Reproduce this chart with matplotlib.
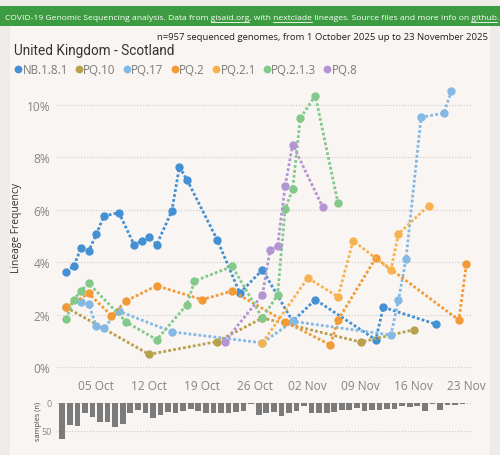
import matplotlib
matplotlib.use('Agg')
import matplotlib.pyplot as plt
import pandas as pd
from matplotlib.lines import Line2D
from matplotlib.patches import Rectangle

plt.rcParams['font.family'] = ['Open Sans', 'DejaVu Sans']

start = pd.Timestamp('2025-10-01')

lineages = ['NB.1.8.1', 'PQ.10', 'PQ.17', 'PQ.2', 'PQ.2.1', 'PQ.2.1.3', 'PQ.8']
colors = ['#4390d3', '#b9a04c', '#84b9e4', '#f39a36', '#f7b250', '#82c98a', '#b495d3']

# day offsets from 1 Oct 2025, frequency in %
nb_days = [0, 1, 2, 3, 4, 5, 7, 9, 10, 11, 12, 14, 15, 16, 20, 23, 26, 30, 33, 41, 42, 49]
nb_freq = [3.64, 3.85, 4.54, 4.43, 5.06, 5.76, 5.89, 4.67, 4.80, 4.97, 4.67, 5.95, 7.63, 7.15,
           4.86, 2.82, 3.71, 1.74, 2.57, 1.04, 2.28, 1.63]

pq10_days = [0, 11, 20, 26, 39, 46]
pq10_freq = [2.28, 0.48, 0.97, 1.87, 0.95, 1.42]

pq17_days = [2, 3, 4, 5, 7, 14, 26, 30, 43, 44, 45, 47, 50, 51]
pq17_freq = [2.47, 2.40, 1.55, 1.50, 2.13, 1.34, 0.92, 1.74, 1.22, 2.54, 4.12, 9.53, 9.69, 10.53]

pq2_days = [0, 3, 6, 8, 12, 18, 22, 29, 35, 36, 41, 52, 53]
pq2_freq = [2.28, 2.81, 1.96, 2.53, 3.10, 2.57, 2.90, 1.73, 0.84, 1.79, 4.16, 1.79, 3.93]

pq21_days = [26, 32, 36, 38, 43, 44, 48]
pq21_freq = [0.92, 3.40, 2.68, 4.82, 3.70, 5.08, 6.16]

pq213_days = [0, 1, 2, 3, 8, 12, 16, 17, 22, 26, 28, 29, 30, 31, 33, 36]
pq213_freq = [1.83, 2.57, 2.91, 3.19, 1.71, 1.04, 2.38, 3.28, 3.84, 1.87, 2.75, 6.03, 6.79,
              9.49, 10.36, 6.25]

pq8_days = [21, 26, 27, 28, 29, 30, 34]
pq8_freq = [0.97, 2.75, 4.47, 4.61, 6.90, 8.49, 6.09]

# sequenced samples per day, 1 Oct .. 23 Nov
samples = [65, 39, 41, 19, 26, 35, 34, 44, 38, 19, 13, 18, 27, 21, 16, 19, 15, 11, 14, 18,
           18, 18, 18, 17, 15, 3, 21, 19, 16, 23, 18, 14, 6, 19, 19, 18, 17, 13, 13, 9,
           15, 12, 12, 11, 11, 6, 7, 6, 15, 3, 13, 4, 4, 2]

tick_dates = ['2025-10-05', '2025-10-12', '2025-10-19', '2025-10-26',
              '2025-11-02', '2025-11-09', '2025-11-16', '2025-11-23']

series = [(nb_days, nb_freq), (pq10_days, pq10_freq), (pq17_days, pq17_freq),
          (pq2_days, pq2_freq), (pq21_days, pq21_freq), (pq213_days, pq213_freq),
          (pq8_days, pq8_freq)]


def to_dates(days):
    return start + pd.to_timedelta(days, unit='D')


W, H = 500, 456
fig = plt.figure(figsize=(W / 100, H / 100), dpi=100, facecolor='#eeebe9')
fig.patches.append(Rectangle((10 / W, 0), 480 / W, 1 - 27 / H, transform=fig.transFigure,
                             facecolor='#f8f5f3', edgecolor='none', zorder=-10))
fig.patches.append(Rectangle((0, 1 - 27 / H), 1, 20 / H, transform=fig.transFigure,
                             facecolor='#3d9b41', edgecolor='none', zorder=-10))

# header with underlined links
renderer = fig.canvas.get_renderer()
parts = [('COVID-19 Genomic Sequencing analysis. Data from ', False), ('gisaid.org', True),
         (', with ', False), ('nextclade', True),
         (' lineages. Source files and more info on ', False), ('github', True), ('.', False)]
full = ''.join(p for p, _ in parts)


def text_w(s, fs):
    t = fig.text(0, 0, s, fontsize=fs)
    w = t.get_window_extent(renderer).width
    t.remove()
    return w


hfs = 10 * 490 / text_w(full, 10)
x0 = 5
yh = 1 - 20.5 / H
fig.text(x0 / W, yh, full, color='white', fontsize=hfs, va='baseline')
prefix = ''
for s, ul in parts:
    if ul:
        x_end = x0 + text_w(prefix + s, hfs)
        x_st = x_end - text_w(s, hfs)
        fig.add_artist(Line2D([x_st / W, x_end / W], [yh - 2 / H, yh - 2 / H],
                              transform=fig.transFigure, color='white', lw=0.6))
    prefix += s

fig.text(488 / W, 1 - 38 / H,
         'n=957 sequenced genomes, from 1 October 2025 up to 23 November 2025',
         ha='right', va='center', fontsize=6.8, color='#222222')
fig.text(14 / W, 1 - 51 / H, 'United Kingdom - Scotland', ha='left', va='center',
         fontsize=9.8, color='#333333', family=['Roboto', 'DejaVu Sans'])

handles = [Line2D([], [], marker='o', ls='none', color=c, markersize=4.6) for c in colors]
fig.legend(handles, lineages, loc='center left', bbox_to_anchor=(12 / W, 1 - 71 / H),
           ncol=7, frameon=False, fontsize=8.3, handletextpad=-0.1, columnspacing=0.45,
           handlelength=1.0, borderaxespad=0, borderpad=0, labelcolor='#7a7a7a')

# main chart
ax = fig.add_axes([57 / W, 1 - 373.2 / H, 414.7 / W, 290.8 / H])
ax.set_facecolor('none')
for (d, f), c in zip(series, colors):
    ax.plot(to_dates(d), f, color=c, lw=2.0, ls=(0, (1.0, 0.8)), dash_capstyle='butt',
            marker='o', markersize=5.0, zorder=3)

ax.set_xlim(start - pd.Timedelta(days=1.2), start + pd.Timedelta(days=53.7))
ax.set_ylim(-0.2, 10.9)
ax.set_yticks([0, 2, 4, 6, 8, 10])
ax.set_yticklabels(['0%', '2%', '4%', '6%', '8%', '10%'])
ax.set_xticks(pd.to_datetime(tick_dates))
ax.set_xticklabels([pd.Timestamp(t).strftime('%d %b') for t in tick_dates])
ax.tick_params(length=0, labelsize=8.6, labelcolor='#858585', pad=5)
ax.grid(axis='y', ls=':', color='#cfcaca', lw=0.8)
ax.set_axisbelow(True)
for sp in ax.spines.values():
    sp.set_visible(False)
fig.text(17 / W, 1 - 228 / H, 'Lineage Frequency', rotation=90, ha='center', va='center',
         fontsize=7.4, color='#333333')

# samples bar chart
bx = fig.add_axes([57 / W, 1 - 443 / H, 414.7 / W, 39.2 / H])
bx.set_facecolor('none')
bx.bar(to_dates(range(len(samples))) - pd.Timedelta(hours=12), samples, width=0.75,
       color='#7b7b7b')
bx.set_xlim(ax.get_xlim())
bx.set_ylim(70, 0)
bx.set_yticks([0, 50])
bx.set_xticks([])
bx.tick_params(length=0, labelsize=6.5, labelcolor='#8a8a8a', pad=4)
bx.grid(axis='y', ls=':', color='#cfcaca', lw=0.8)
bx.set_axisbelow(True)
for sp in bx.spines.values():
    sp.set_visible(False)
fig.text(38 / W, 1 - 422 / H, 'samples (n)', rotation=90, ha='center', va='center',
         fontsize=5.2, color='#444444')

fig.savefig('out.png', dpi=100, facecolor=fig.get_facecolor())
